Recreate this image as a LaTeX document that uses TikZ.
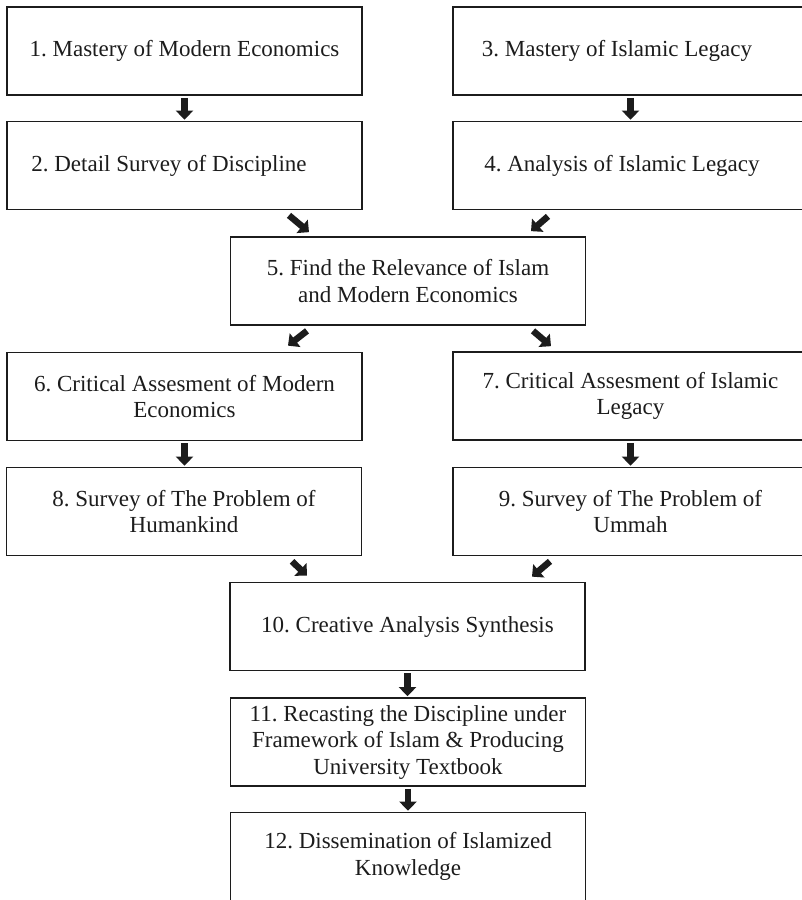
\documentclass[tikz,border=0pt]{standalone}
\usepackage{fontspec}
\setmainfont{Liberation Serif}
\usetikzlibrary{arrows.meta}
\definecolor{ink}{HTML}{1C1C1C}
\frenchspacing
\begin{document}
\begin{tikzpicture}[x=1pt,y=-1pt,
  stage/.style={draw=ink, line width=1.7pt, minimum width=355pt,
    minimum height=88pt, inner sep=0pt, text=ink,
    font=\fontsize{23}{26.5}\selectfont},
  stagelines/.style={stage, align=center},
  flow/.style={draw=ink, line width=6.5pt,
    -{Triangle[length=9pt,width=17pt]}}]
\useasboundingbox (0,0) rectangle (802,900);
\clip (0,0) rectangle (802,900);

% stages
\node[stage] (b1) at (184.5,51) {1. Mastery of Modern Economics};
\node[stage] (b2) at (184.5,165.5) {2. Detail Survey of Discipline\hspace*{31pt}};
\node[stage] (b3) at (630.5,51) {3. Mastery of Islamic Legacy\hspace*{27pt}};
\node[stage] (b4) at (630.5,165.5) {4. Analysis of Islamic Legacy\hspace*{17pt}};
\node[stagelines] (b5) at (408,281) {5. Find the Relevance of Islam\\and Modern Economics};
\node[stagelines] (b6) at (184.5,396.5) {6. Critical Assesment of Modern\\Economics};
\node[stagelines] (b7) at (630.5,396) {7. Critical Assesment of Islamic\\Legacy};
\node[stagelines] (b8) at (184,511.5) {8. Survey of The Problem of\\Humankind};
\node[stagelines] (b9) at (630.5,511.5) {9. Survey of The Problem of\\Ummah};
\node[stage] (b10) at (407.5,626.5) {10. Creative Analysis Synthesis};
\node[stagelines] (b11) at (408,742) {11. Recasting the Discipline under\\Framework of Islam \& Producing\\University Textbook};
\node[stagelines] (b12) at (408,856.5) {12. Dissemination of Islamized\\Knowledge};

% straight connectors
\draw[flow, shorten <=2pt, shorten >=1pt] (b1.south) -- (b2.north);
\draw[flow, shorten <=2pt, shorten >=1pt] (b3.south) -- (b4.north);
\draw[flow, shorten <=2pt, shorten >=1pt] (b6.south) -- (b6.south |- b8.north);
\draw[flow, shorten <=2pt, shorten >=1pt] (b7.south) -- (b7.south |- b9.north);
\draw[flow, shorten <=2pt, shorten >=1pt] (b10.south) -- (b10.south |- b11.north);
\draw[flow, shorten <=2pt, shorten >=1pt] (b11.south) -- (b11.south |- b12.north);

% diagonal connectors
\draw[flow] ([shift={(104.5,5)}]b2.south) -- ([shift={(-99,-4)}]b5.north);
\draw[flow] ([shift={(-82.5,6)}]b4.south) -- ([shift={(123,-5)}]b5.north);
\draw[flow] ([shift={(-101,5)}]b5.south) -- ([shift={(103.5,-6)}]b6.north);
\draw[flow] ([shift={(125,5)}]b5.south) -- ([shift={(-79.5,-5)}]b7.north);
\draw[flow] ([shift={(108,5)}]b8.south) -- ([shift={(-100.5,-6)}]b10.north);
\draw[flow] ([shift={(-80.5,5)}]b9.south) -- ([shift={(124.5,-5)}]b10.north);
\end{tikzpicture}
\end{document}
